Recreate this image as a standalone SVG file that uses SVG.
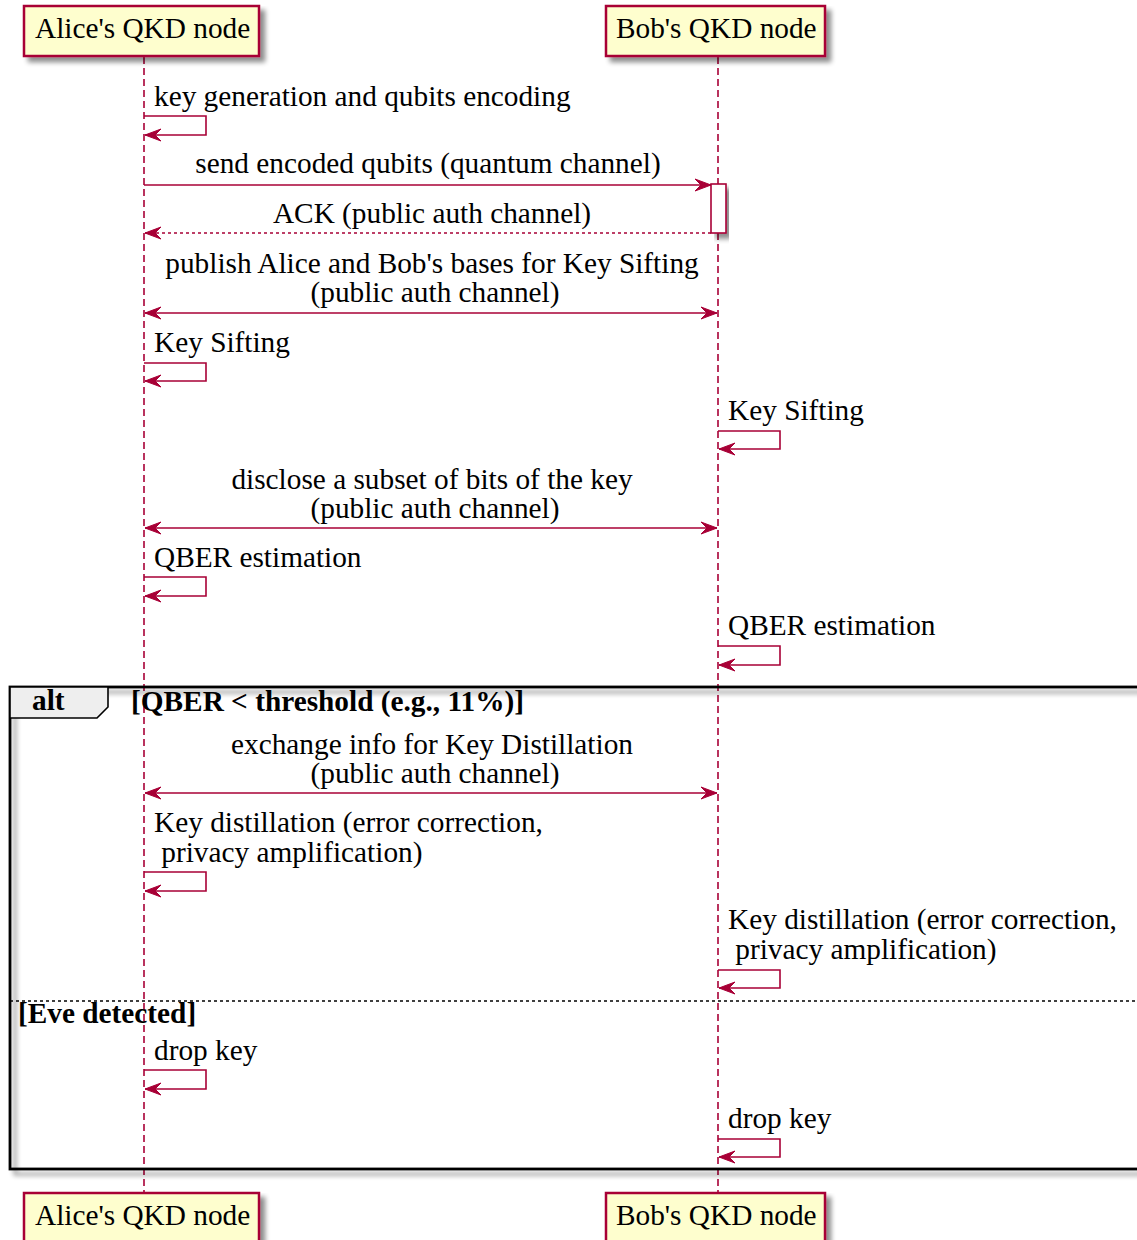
<svg xmlns="http://www.w3.org/2000/svg" width="1137" height="1240" viewBox="0 0 1137 1240">
  <defs>
    <filter id="shadow" x="-10%" y="-10%" width="130%" height="140%">
      <feGaussianBlur in="SourceAlpha" stdDeviation="2.5"/>
      <feOffset dx="5" dy="5" result="blur"/>
      <feComponentTransfer><feFuncA type="linear" slope="0.45"/></feComponentTransfer>
      <feMerge><feMergeNode/><feMergeNode in="SourceGraphic"/></feMerge>
    </filter>
    <marker id="head" viewBox="0 0 18 14" refX="17" refY="7" markerWidth="18" markerHeight="14" markerUnits="userSpaceOnUse" orient="auto-start-reverse">
      <path d="M17,7 L1,1 L7,7 L1,13 Z" fill="#A80036" stroke="#A80036" stroke-width="1"/>
    </marker>
    <style>
      text { font-family: "Liberation Serif", "Times New Roman", serif; font-size: 29.3px; fill: #000; }
      .bold { font-weight: bold; }
      .mid { text-anchor: middle; }
      .part rect { fill: #FEFECE; stroke: #A80036; stroke-width: 2.5; }
      .life { stroke: #A80036; stroke-width: 1.6; stroke-dasharray: 7,4; fill: none; }
      .msg { stroke: #A80036; stroke-width: 1.6; fill: none; }
      .dot { stroke-dasharray: 3,3; }
      .frame { fill: none; stroke: #000; stroke-width: 2.8; }
      .sep { stroke: #000; stroke-width: 1.4; stroke-dasharray: 3,3; fill: none; }
    </style>
  </defs>
  <rect width="1137" height="1240" fill="#FFFFFF"/>

  <!-- lifelines -->
  <g id="lifelines">
    <line class="life" x1="144" y1="57" x2="144" y2="1193"/>
    <line class="life" x1="718" y1="57" x2="718" y2="1193"/>
  </g>

  <!-- alt fragment -->
  <g id="alt-fragment">
    <rect class="frame" x="10" y="687" width="1140" height="482" filter="url(#shadow)"/>
    <polygon points="10,687 108,687 108,707 97,718 10,718" fill="#EEEEEE" stroke="#000" stroke-width="1.6"/>
    <text class="bold" x="32" y="710">alt</text>
    <text class="bold" x="131" y="711">[QBER &lt; threshold (e.g., 11%)]</text>
    <line class="sep" x1="10" y1="1001" x2="1137" y2="1001"/>
    <text class="bold" x="18" y="1023">[Eve detected]</text>
  </g>

  <!-- participants -->
  <g id="alice-top" class="part">
    <rect x="24" y="6" width="235" height="50" filter="url(#shadow)"/>
    <text x="35" y="38">Alice's QKD node</text>
  </g>
  <g id="bob-top" class="part">
    <rect x="606" y="6" width="219" height="50" filter="url(#shadow)"/>
    <text x="616" y="38">Bob's QKD node</text>
  </g>
  <g id="alice-bottom" class="part">
    <rect x="24" y="1193" width="235" height="50" filter="url(#shadow)"/>
    <text x="35" y="1225">Alice's QKD node</text>
  </g>
  <g id="bob-bottom" class="part">
    <rect x="606" y="1193" width="219" height="50" filter="url(#shadow)"/>
    <text x="616" y="1225">Bob's QKD node</text>
  </g>

  <!-- activation on Bob -->
  <g id="bob-activation">
    <rect x="711" y="184" width="15" height="49" fill="#FFFFFF" stroke="#A80036" stroke-width="1.6" filter="url(#shadow)"/>
  </g>

  <!-- messages -->
  <g id="connectors">
    <path class="msg" d="M144,116 H206 V135 H145" marker-end="url(#head)"/>
    <line class="msg" x1="144" y1="185" x2="711" y2="185" marker-end="url(#head)"/>
    <line class="msg dot" x1="711" y1="233" x2="145" y2="233" marker-end="url(#head)"/>
    <line class="msg" x1="145" y1="313" x2="717" y2="313" marker-start="url(#head)" marker-end="url(#head)"/>
    <path class="msg" d="M144,363 H206 V381 H145" marker-end="url(#head)"/>
    <path class="msg" d="M718,431 H780 V449 H719" marker-end="url(#head)"/>
    <line class="msg" x1="145" y1="528" x2="717" y2="528" marker-start="url(#head)" marker-end="url(#head)"/>
    <path class="msg" d="M144,577 H206 V596 H145" marker-end="url(#head)"/>
    <path class="msg" d="M718,646 H780 V665 H719" marker-end="url(#head)"/>
    <line class="msg" x1="145" y1="793" x2="717" y2="793" marker-start="url(#head)" marker-end="url(#head)"/>
    <path class="msg" d="M144,872 H206 V891 H145" marker-end="url(#head)"/>
    <path class="msg" d="M718,970 H780 V988 H719" marker-end="url(#head)"/>
    <path class="msg" d="M144,1070 H206 V1089 H145" marker-end="url(#head)"/>
    <path class="msg" d="M718,1139 H780 V1157 H719" marker-end="url(#head)"/>
  </g>

  <!-- message labels -->
  <g id="labels">
    <text x="154" y="106">key generation and qubits encoding</text>
    <text class="mid" x="428" y="173">send encoded qubits (quantum channel)</text>
    <text class="mid" x="432" y="223">ACK (public auth channel)</text>
    <text class="mid" x="432" y="273">publish Alice and Bob's bases for Key Sifting</text>
    <text class="mid" x="435" y="302">(public auth channel)</text>
    <text x="154" y="352">Key Sifting</text>
    <text x="728" y="420">Key Sifting</text>
    <text class="mid" x="432" y="489">disclose a subset of bits of the key</text>
    <text class="mid" x="435" y="518">(public auth channel)</text>
    <text x="154" y="567">QBER estimation</text>
    <text x="728" y="635">QBER estimation</text>
    <text class="mid" x="432" y="754">exchange info for Key Distillation</text>
    <text class="mid" x="435" y="783">(public auth channel)</text>
    <text x="154" y="832">Key distillation (error correction,</text>
    <text x="154" y="862" xml:space="preserve"> privacy amplification)</text>
    <text x="728" y="929">Key distillation (error correction,</text>
    <text x="728" y="959" xml:space="preserve"> privacy amplification)</text>
    <text x="154" y="1060">drop key</text>
    <text x="728" y="1128">drop key</text>
  </g>
</svg>
